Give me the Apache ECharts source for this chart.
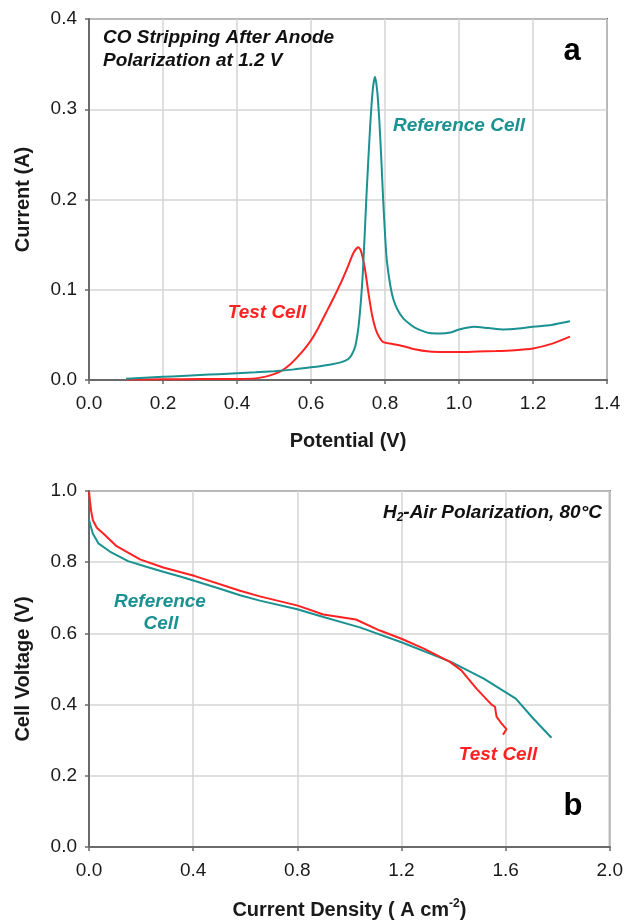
<!DOCTYPE html>
<html>
<head>
<meta charset="utf-8">
<title>CO stripping and H2-air polarization</title>
<script src="https://cdn.jsdelivr.net/npm/echarts@6/dist/echarts.min.js"></script>
<style>
  html, body { margin: 0; padding: 0; background: #ffffff; }
  #chart { width: 626px; height: 921px; }
</style>
</head>
<body>
<div id="chart"></div>
<script>
// ---- Panel a: CO stripping voltammograms (potential V, current A) ----
const coRefPotential = [0.10, 0.15, 0.20, 0.25, 0.30, 0.35, 0.40, 0.45, 0.50, 0.55, 0.60, 0.65, 0.68, 0.70, 0.71, 0.72, 0.73, 0.74, 0.75, 0.76, 0.767, 0.773, 0.779, 0.785, 0.79, 0.795, 0.80, 0.805, 0.815, 0.823, 0.835, 0.85, 0.87, 0.886, 0.92, 0.95, 0.98, 1.00, 1.04, 1.08, 1.12, 1.16, 1.20, 1.25, 1.30];
const coRefCurrent   = [0.0015, 0.0025, 0.0035, 0.0045, 0.0055, 0.0065, 0.0075, 0.0085, 0.0098, 0.0115, 0.0140, 0.0170, 0.0195, 0.023, 0.028, 0.038, 0.065, 0.118, 0.205, 0.282, 0.322, 0.336, 0.320, 0.285, 0.245, 0.200, 0.162, 0.132, 0.103, 0.089, 0.077, 0.068, 0.061, 0.057, 0.052, 0.0515, 0.053, 0.056, 0.059, 0.0575, 0.056, 0.057, 0.059, 0.061, 0.065];

const coTestPotential = [0.10, 0.20, 0.30, 0.40, 0.45, 0.48, 0.50, 0.52, 0.54, 0.56, 0.58, 0.60, 0.62, 0.64, 0.66, 0.68, 0.70, 0.715, 0.728, 0.735, 0.745, 0.755, 0.765, 0.775, 0.785, 0.795, 0.82, 0.85, 0.88, 0.92, 0.96, 1.00, 1.05, 1.10, 1.15, 1.20, 1.25, 1.30];
const coTestCurrent   = [0.0005, 0.0008, 0.0010, 0.0012, 0.0018, 0.0040, 0.0065, 0.010, 0.016, 0.024, 0.033, 0.044, 0.058, 0.074, 0.090, 0.107, 0.126, 0.141, 0.147, 0.143, 0.125, 0.097, 0.072, 0.056, 0.047, 0.042, 0.040, 0.0375, 0.034, 0.0315, 0.031, 0.031, 0.0315, 0.032, 0.033, 0.035, 0.040, 0.048];

// ---- Panel b: H2-air polarization curves (current density A/cm2, cell voltage V) ----
const polRefDensity = [0.000, 0.005, 0.015, 0.036, 0.080, 0.150, 0.220, 0.285, 0.350, 0.407, 0.500, 0.580, 0.656, 0.800, 0.900, 1.040, 1.200, 1.390, 1.516, 1.639, 1.706, 1.776];
const polRefVoltage = [0.920, 0.905, 0.880, 0.853, 0.830, 0.803, 0.787, 0.773, 0.760, 0.747, 0.726, 0.707, 0.692, 0.668, 0.646, 0.617, 0.575, 0.520, 0.473, 0.417, 0.361, 0.307];

const polTestDensity = [0.000, 0.004, 0.008, 0.015, 0.030, 0.060, 0.106, 0.196, 0.285, 0.407, 0.580, 0.656, 0.802, 0.900, 1.025, 1.117, 1.200, 1.286, 1.386, 1.430, 1.488, 1.546, 1.559, 1.565, 1.584, 1.603, 1.590];
const polTestVoltage = [0.998, 0.970, 0.945, 0.918, 0.897, 0.877, 0.845, 0.808, 0.785, 0.761, 0.720, 0.704, 0.678, 0.653, 0.639, 0.608, 0.585, 0.557, 0.520, 0.496, 0.445, 0.400, 0.394, 0.366, 0.347, 0.331, 0.315];

// ---- Axis ticks ----
const potentialTicks = [0.0, 0.2, 0.4, 0.6, 0.8, 1.0, 1.2, 1.4];
const currentTicks   = [0.0, 0.1, 0.2, 0.3, 0.4];
const densityTicks   = [0.0, 0.4, 0.8, 1.2, 1.6, 2.0];
const voltageTicks   = [0.0, 0.2, 0.4, 0.6, 0.8, 1.0];

const TEAL = '#1b9191';
const RED = '#ff2222';
const FONT = '"Liberation Sans", Arial, Helvetica, sans-serif';

const pairs = (xs, ys) => xs.map((x, i) => [x, ys[i]]);

function valueAxis(ticks, gridIndex, extra) {
  return Object.assign({
    type: 'value',
    gridIndex: gridIndex,
    min: ticks[0],
    max: ticks[ticks.length - 1],
    interval: ticks[1] - ticks[0],
    axisLine: { show: true, lineStyle: { color: '#6a6a6a', width: 2 } },
    axisTick: { show: true, length: 4, lineStyle: { color: '#6a6a6a', width: 1.5 } },
    axisLabel: {
      color: '#1a1a1a', fontSize: 19, fontFamily: FONT,
      formatter: v => v.toFixed(1)
    },
    splitLine: { show: true, lineStyle: { color: '#d4d4d4', width: 1.5 } },
    nameLocation: 'middle',
    nameTextStyle: { color: '#1a1a1a', fontSize: 20, fontWeight: 'bold', fontFamily: FONT }
  }, extra);
}

const chart = echarts.init(document.getElementById('chart'), null, { renderer: 'canvas' });

const textBase = { fontFamily: FONT, fontSize: 19, fontWeight: 'bold', fontStyle: 'italic' };
const note = (x, y, text, fill, align) => ({
  type: 'text', x: x, y: y, z: 100,
  style: Object.assign({ text: text, fill: fill, align: align || 'center', verticalAlign: 'middle' }, textBase)
});

chart.setOption({
  backgroundColor: '#ffffff',
  animation: false,
  grid: [
    { left: 89, top: 19, width: 518, height: 361, show: true, borderColor: '#6a6a6a', borderWidth: 2, backgroundColor: 'transparent' },
    { left: 89, top: 491, width: 521, height: 358, show: true, borderColor: '#6a6a6a', borderWidth: 2, backgroundColor: 'transparent' }
  ],
  xAxis: [
    valueAxis(potentialTicks, 0, { name: 'Potential (V)', nameGap: 51, axisLabel: { color: '#1a1a1a', fontSize: 19, fontFamily: FONT, margin: 14, formatter: v => v.toFixed(1) } }),
    valueAxis(densityTicks, 1, {
      name: '{t|Current Density ( A cm}{s|-2}{t|)}',
      nameGap: 51,
      nameTextStyle: {
        rich: {
          t: { fontSize: 20, fontWeight: 'bold', fontFamily: FONT, color: '#1a1a1a', lineHeight: 24 },
          s: { fontSize: 12, fontWeight: 'bold', fontFamily: FONT, color: '#1a1a1a', lineHeight: 12, verticalAlign: 'top' }
        }
      },
      axisLabel: { color: '#1a1a1a', fontSize: 19, fontFamily: FONT, margin: 14, formatter: v => v.toFixed(1) }
    })
  ],
  yAxis: [
    valueAxis(currentTicks, 0, { name: 'Current (A)', nameGap: 56, axisLabel: { color: '#1a1a1a', fontSize: 19, fontFamily: FONT, margin: 12, formatter: v => v.toFixed(1) } }),
    valueAxis(voltageTicks, 1, { name: 'Cell Voltage (V)', nameGap: 56, axisLabel: { color: '#1a1a1a', fontSize: 19, fontFamily: FONT, margin: 12, formatter: v => v.toFixed(1) } })
  ],
  series: [
    {
      name: 'Reference Cell (CO stripping)', type: 'line', xAxisIndex: 0, yAxisIndex: 0,
      data: pairs(coRefPotential, coRefCurrent), showSymbol: false, smooth: 0.25,
      lineStyle: { color: TEAL, width: 2 }, itemStyle: { color: TEAL }, z: 3
    },
    {
      name: 'Test Cell (CO stripping)', type: 'line', xAxisIndex: 0, yAxisIndex: 0,
      data: pairs(coTestPotential, coTestCurrent), showSymbol: false, smooth: 0.25,
      lineStyle: { color: RED, width: 2 }, itemStyle: { color: RED }, z: 2
    },
    {
      name: 'Reference Cell (polarization)', type: 'line', xAxisIndex: 1, yAxisIndex: 1,
      data: pairs(polRefDensity, polRefVoltage), showSymbol: false,
      lineStyle: { color: TEAL, width: 2 }, itemStyle: { color: TEAL }, z: 2
    },
    {
      name: 'Test Cell (polarization)', type: 'line', xAxisIndex: 1, yAxisIndex: 1,
      data: pairs(polTestDensity, polTestVoltage), showSymbol: false,
      lineStyle: { color: RED, width: 2 }, itemStyle: { color: RED }, z: 3
    }
  ],
  graphic: [
    // panel a annotations
    note(103, 38, 'CO Stripping After Anode', '#111', 'left'),
    note(103, 61, 'Polarization at 1.2 V', '#111', 'left'),
    { type: 'text', x: 572, y: 51, z: 100, style: { text: 'a', fill: '#000', font: 'bold 31px ' + FONT, align: 'center', verticalAlign: 'middle' } },
    note(459, 126, 'Reference Cell', TEAL),
    note(267, 313, 'Test Cell', RED),
    // panel b annotations
    { type: 'text', x: 602, y: 513, z: 100, style: {
        text: '{m|H}{sub|2}{m|-Air Polarization, 80°C}', align: 'right', verticalAlign: 'middle',
        rich: {
          m: Object.assign({ fill: '#111', lineHeight: 22 }, textBase),
          sub: { fill: '#111', fontFamily: FONT, fontSize: 12, fontWeight: 'bold', fontStyle: 'italic', lineHeight: 12, verticalAlign: 'bottom' }
        }
      } },
    note(160, 602, 'Reference', TEAL),
    note(161, 624, 'Cell', TEAL),
    note(498, 755, 'Test Cell', RED),
    { type: 'text', x: 573, y: 806, z: 100, style: { text: 'b', fill: '#000', font: 'bold 31px ' + FONT, align: 'center', verticalAlign: 'middle' } }
  ]
});
</script>
</body>
</html>
